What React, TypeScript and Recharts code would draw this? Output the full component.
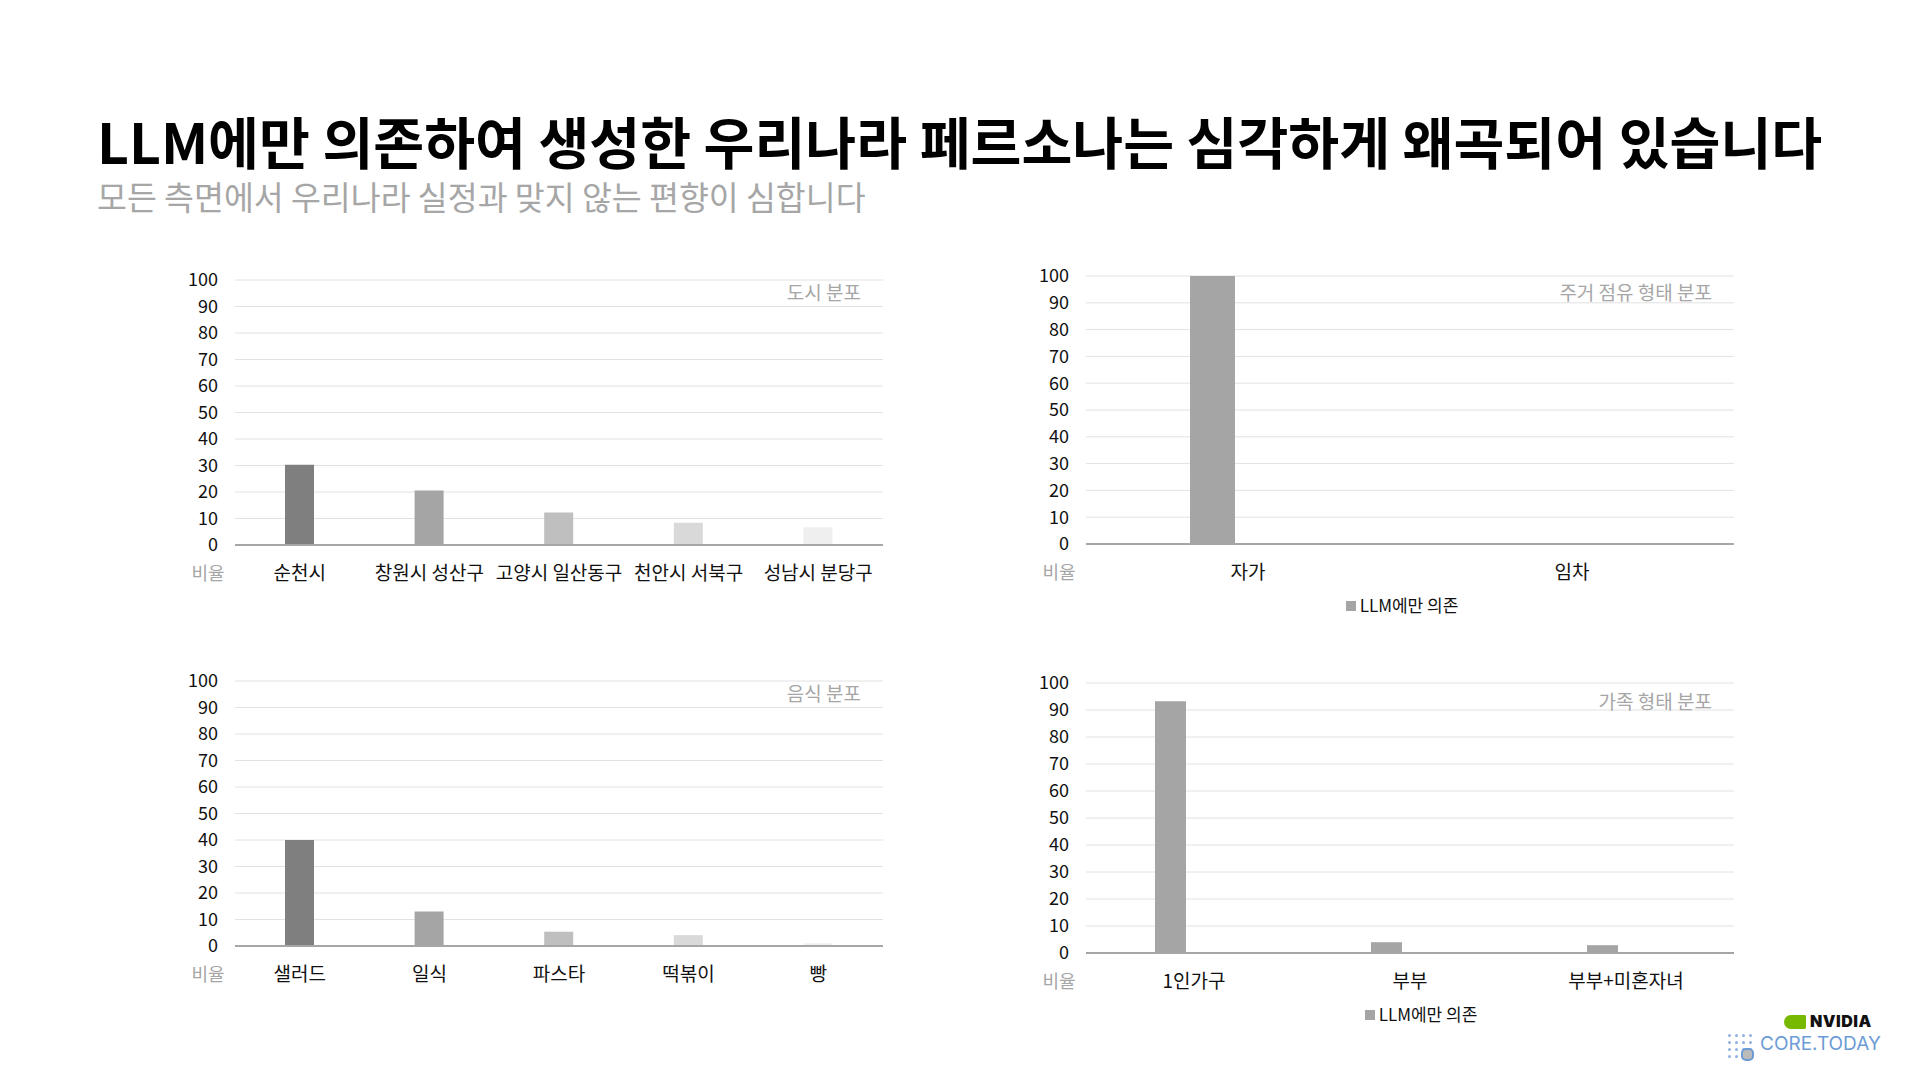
import { BarChart, Bar, XAxis, YAxis, CartesianGrid, Cell } from "recharts";

const FONT = '"Noto Sans CJK KR", "Noto Sans", sans-serif';

// data (percent)
const yTicks = [0, 10, 20, 30, 40, 50, 60, 70, 80, 90, 100];

const cityLabels = ["순천시", "창원시 성산구", "고양시 일산동구", "천안시 서북구", "성남시 분당구"];
const cityValues = [30.3, 20.6, 12.3, 8.4, 6.7];

const housingLabels = ["자가", "임차"];
const housingValues = [100, 0];

const foodLabels = ["샐러드", "일식", "파스타", "떡볶이", "빵"];
const foodValues = [40, 13, 5.4, 4.1, 1];

const familyLabels = ["1인가구", "부부", "부부+미혼자녀"];
const familyValues = [93.2, 4, 2.9];

const shadeColors = ["#7f7f7f", "#a5a5a5", "#bfbfbf", "#d9d9d9", "#efefef"];
const seriesName = "LLM에만 의존";

const gray = "#a6a6a6";
const xTickStyle = { fontSize: 19, fill: "#111", fontFamily: FONT };
const yTickStyle = { fontSize: 18, fill: "#111", fontFamily: FONT };

type PanelProps = {
  x: number;
  y: number;
  w: number;
  h: number;
  labels: string[];
  values: number[];
  title: string;
  titleDy?: number;
  barSize: number;
  barGap?: number;
  colors?: string[];
  legend?: boolean;
  legendDx?: number;
};

const Panel = ({ x, y, w, h, labels, values, title, titleDy = 0, barSize, barGap, colors, legend, legendDx = 0 }: PanelProps) => {
  const data = labels.map((name, i) => ({ name, value: values[i] }));
  return (
    <div style={{ position: "absolute", left: x - 80, top: y - 30, width: w + 110, height: h + 110 }}>
      <BarChart
        width={w + 110}
        height={h + 100}
        data={data}
        margin={{ top: 30, right: 30, bottom: 30, left: 30 }}
        barGap={barGap ?? 4}
      >
        <CartesianGrid vertical={false} stroke="#e2e2e2" />
        <XAxis
          dataKey="name"
          height={40}
          interval={0}
          tick={xTickStyle}
          tickLine={false}
          tickMargin={16}
          axisLine={{ stroke: gray, strokeWidth: 2 }}
        />
        <YAxis
          width={50}
          domain={[0, 100]}
          ticks={yTicks}
          interval={0}
          tick={yTickStyle}
          tickLine={false}
          axisLine={false}
          tickMargin={11}
        />
        <Bar dataKey="value" name={seriesName} fill="#a5a5a5" barSize={barSize} isAnimationActive={false}>
          {colors && data.map((d, i) => <Cell key={d.name} fill={colors[i]} />)}
        </Bar>
        {barGap !== undefined && (
          <Bar dataKey="spacer" barSize={barSize} fill="none" legendType="none" isAnimationActive={false} />
        )}
      </BarChart>
      {/* inner title, top right */}
      <div
        style={{
          position: "absolute",
          right: 30 + 22,
          top: 30 + 1 + titleDy,
          fontSize: 19,
          color: gray,
          lineHeight: "22px",
          whiteSpace: "nowrap",
        }}
      >
        {title}
      </div>
      {/* "비율" under the y axis */}
      <div
        style={{
          position: "absolute",
          left: 80 - 27 - 30,
          width: 60,
          textAlign: "center",
          top: 30 + h + 16,
          fontSize: 18,
          color: gray,
          lineHeight: "22px",
        }}
      >
        비율
      </div>
      {legend && (
        <div
          style={{
            position: "absolute",
            left: 80 + legendDx,
            width: w,
            top: 30 + h + 50,
            textAlign: "center",
            fontSize: 17,
            color: "#111",
            lineHeight: "22px",
          }}
        >
          <span style={{ display: "inline-block", width: 10, height: 10, background: "#a5a5a5", marginRight: 4, verticalAlign: "1px" }} />
          {seriesName}
        </div>
      )}
    </div>
  );
};

const dots = [0, 1, 2, 3, 4, 5, 6, 7, 8, 9, 10, 11, 12, 13, 14, 15];

const Logo = () => (
  <div style={{ position: "absolute", left: 1726, top: 1014, width: 170, height: 50 }}>
    <div style={{ position: "absolute", left: 58, top: 1, width: 22, height: 14, background: "#76b900", borderRadius: "10px 2px 2px 10px" }} />
    <div style={{ position: "absolute", left: 84, top: -3, fontSize: 16, fontWeight: 900, color: "#111", fontFamily: "Inter, sans-serif", letterSpacing: 0.5 }}>
      NVIDIA
    </div>
    {dots.map((d) => (
      <div
        key={d}
        style={{
          position: "absolute",
          left: 2 + (d % 4) * 7,
          top: 20 + Math.floor(d / 4) * 7,
          width: 3,
          height: 3,
          borderRadius: 2,
          background: "#8fb1df",
        }}
      />
    ))}
    <div style={{ position: "absolute", left: 15, top: 34, width: 9, height: 9, borderRadius: 5, border: "2px solid #6d9bd6", background: "#bbb" }} />
    <div style={{ position: "absolute", left: 34, top: 18, fontSize: 19, color: "#6d9bd6", fontFamily: "Inter, sans-serif" }}>
      CORE.TODAY
    </div>
  </div>
);

export default function App() {
  return (
    <div
      style={{
        position: "fixed",
        left: 0,
        top: 0,
        width: 1920,
        height: 1080,
        background: "#fff",
        fontFamily: FONT,
        overflow: "hidden",
      }}
    >
      <div
        style={{
          position: "absolute",
          left: 97,
          top: 112,
          fontSize: 55.3,
          fontWeight: 700,
          lineHeight: "56px",
          color: "#000",
          letterSpacing: 0,
          whiteSpace: "nowrap",
        }}
      >
        LLM에만 의존하여 생성한 우리나라 페르소나는 심각하게 왜곡되어 있습니다
      </div>
      <div
        style={{
          position: "absolute",
          left: 97,
          top: 179,
          fontSize: 32.5,
          fontWeight: 400,
          lineHeight: "34px",
          color: gray,
          whiteSpace: "nowrap",
        }}
      >
        모든 측면에서 우리나라 실정과 맞지 않는 편향이 심합니다
      </div>

      <Panel x={235} y={280} w={648} h={265} labels={cityLabels} values={cityValues} title="도시 분포" barSize={29} colors={shadeColors} />
      <Panel x={1086} y={276} w={648} h={268} labels={housingLabels} values={housingValues} title="주거 점유 형태 분포" titleDy={4} barSize={45} barGap={26} legend legendDx={-8} />
      <Panel x={235} y={681} w={648} h={265} labels={foodLabels} values={foodValues} title="음식 분포" barSize={29} colors={shadeColors} />
      <Panel x={1086} y={683} w={648} h={270} labels={familyLabels} values={familyValues} title="가족 형태 분포" titleDy={6} barSize={31} barGap={17} legend legendDx={11} />

      <Logo />
    </div>
  );
}
